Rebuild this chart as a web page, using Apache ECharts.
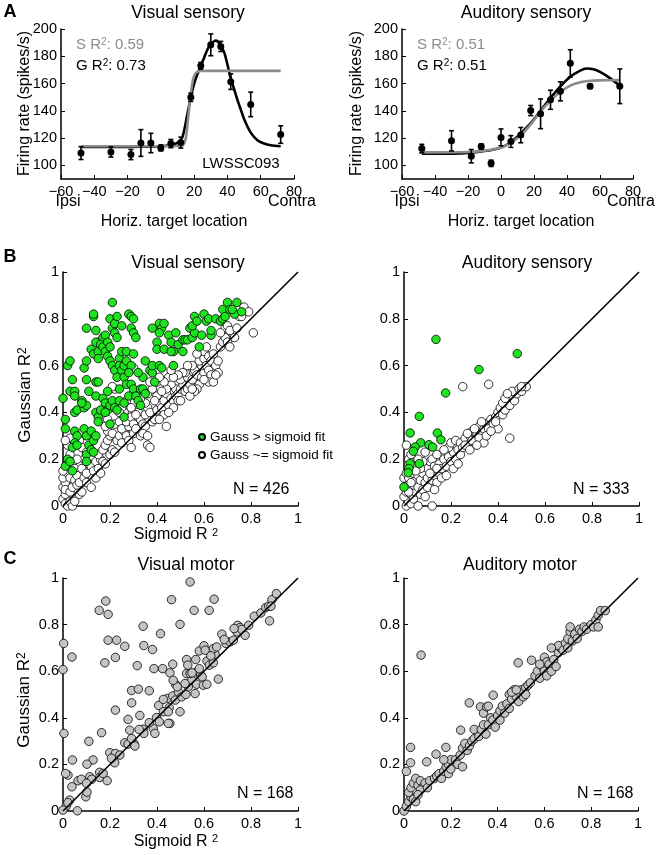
<!DOCTYPE html>
<html><head><meta charset="utf-8">
<script src="https://cdn.jsdelivr.net/npm/echarts@6/dist/echarts.min.js"></script>
<style>html,body{margin:0;padding:0;background:#fff}#c{width:659px;height:855px}</style>
</head><body><div id="c"></div><script>
// ---------- Panel A data ----------
const aYTicks = [100,120,140,160,180,200];
const visLoc  = [-48,-30,-18,-12,-6,0,6,12,18,24,30,36,42,54,72];
const visRate = [109,109.8,107.9,116.4,116.4,112.8,116,116.7,149.9,173,188.4,187.2,161.4,144.7,122.6];
const visErr  = [4.7,3.7,3.7,9.8,7.1,2.2,3,4,3,2.5,8,3.7,5.7,9,6.4];
const visGaussX = [-48,-30,-10,0,6,10,13,16,18,20,22,24,26,28,30,32,33,34,36,38,40,42,44,46,48,50,54,58,62,66,72];
const visGaussY = [113.5,113.5,113.6,114,115,116.5,121,138,150,160,167,173,179,185,189,191,191.5,191,188,183,174,164,156,148,141,134,124,118.5,116,114.7,114];
const visSigX = [-48,0,10,13,14,15,16,17,18,19,20,21,22,24,30,72];
const visSigY = [114,114,114.2,114.5,116,120,130,142,153,161,165.5,167.7,168.7,169.2,169.3,169.3];

const audLoc  = [-48,-30,-18,-12,-6,0,6,12,18,24,30,36,42,54,72];
const audRate = [112.3,118,106.7,113.8,101.5,120.5,117.5,122.2,140.2,137.8,148.1,154.3,174.8,158,158];
const audErr  = [3.1,7.4,4.9,1.9,2.3,6.2,4.3,5.6,3.7,10.9,7,7,10,1.6,12.7];
const audGaussX = [-48,-30,-18,-10,-5,0,6,12,18,24,30,36,42,48,52,56,60,66,72];
const audGaussY = [108.5,108.6,109.3,110.5,111.5,113,117,123.5,131,140,149.5,158,165,169.5,171,170.5,168.5,164,158.5];
const audSigX = [-48,-20,-10,0,6,12,18,24,30,36,42,48,54,60,72];
const audSigY = [109.5,109.8,110.8,113,116.5,122,130,139.5,147.5,154,158.5,161,162,162.3,162.5];

// ---------- Panel B data : [sigmoid R2, gaussian R2] ----------
const visSensGauss = [[0.0,0.46],[0.01,0.37],[0.01,0.33],[0.02,0.6],[0.03,0.62],[0.04,0.54],[0.03,0.49],[0.05,0.49],[0.05,0.47],[0.05,0.40],[0.06,0.41],[0.05,0.32],[0.06,0.30],[0.05,0.27],[0.04,0.25],[0.02,0.20],[0.01,0.17],[0.04,0.15],[0.03,0.19],[0.06,0.26],
[0.09,0.59],[0.10,0.62],[0.10,0.54],[0.08,0.45],[0.09,0.42],[0.10,0.43],[0.11,0.49],[0.08,0.44],[0.09,0.33],[0.10,0.30],[0.11,0.26],[0.10,0.22],[0.10,0.19],[0.12,0.24],[0.13,0.23],[0.12,0.32],[0.13,0.28],[0.14,0.30],[0.10,0.76],[0.12,0.67],[0.13,0.65],[0.13,0.81],[0.13,0.82],[0.14,0.75],[0.15,0.70],[0.14,0.70],[0.15,0.66],[0.15,0.63],[0.14,0.53],[0.15,0.53],[0.14,0.47],[0.14,0.40],[0.15,0.38],[0.15,0.36],[0.16,0.41],
[0.17,0.72],[0.16,0.69],[0.18,0.73],[0.17,0.68],[0.18,0.66],[0.19,0.70],[0.20,0.68],[0.21,0.87],[0.20,0.80],[0.21,0.76],[0.22,0.78],[0.23,0.81],[0.22,0.74],[0.19,0.64],[0.20,0.62],[0.21,0.60],[0.22,0.58],[0.23,0.55],[0.17,0.46],[0.18,0.44],[0.19,0.41],[0.18,0.40],[0.20,0.43],[0.19,0.49],[0.21,0.45],[0.20,0.35],[0.22,0.42],[0.23,0.41],[0.24,0.63],[0.24,0.60],[0.25,0.58],[0.25,0.66],[0.23,0.72],[0.25,0.77],[0.24,0.50],[0.24,0.45],
[0.26,0.60],[0.26,0.55],[0.27,0.62],[0.27,0.66],[0.28,0.82],[0.29,0.81],[0.30,0.80],[0.29,0.76],[0.30,0.74],[0.31,0.72],[0.30,0.65],[0.29,0.60],[0.28,0.57],[0.27,0.52],[0.29,0.52],[0.30,0.50],[0.28,0.47],[0.31,0.47],[0.32,0.45],[0.26,0.44],[0.26,0.38],[0.33,0.50],[0.34,0.50],[0.35,0.48],[0.33,0.43],[0.34,0.55],[0.32,0.57],
[0.35,0.62],[0.37,0.58],[0.38,0.57],[0.38,0.60],[0.39,0.53],[0.38,0.76],[0.40,0.70],[0.41,0.78],[0.42,0.76],[0.41,0.74],[0.43,0.78],[0.40,0.67],[0.41,0.60],[0.42,0.59],[0.43,0.67],
[0.45,0.73],[0.46,0.70],[0.47,0.66],[0.46,0.66],[0.47,0.60],[0.48,0.74],[0.49,0.69],[0.51,0.71],[0.51,0.66],[0.52,0.71],[0.54,0.76],[0.53,0.71],[0.55,0.72],[0.56,0.74],[0.55,0.77],
[0.56,0.81],[0.57,0.79],[0.59,0.73],[0.58,0.68],[0.60,0.82],[0.61,0.79],[0.62,0.80],[0.63,0.73],[0.63,0.75],[0.65,0.80],[0.67,0.79],[0.68,0.80],[0.68,0.84],[0.69,0.81],[0.70,0.87],[0.71,0.84],[0.74,0.87],[0.73,0.82],[0.72,0.84],[0.76,0.83]];
const visSensEqual = [[0.00,0.03],[0.01,0.01],[0.02,0.0],[0.03,0.02],[0.04,0.0],[0.05,0.02],[0.01,0.05],[0.0,0.08],[0.01,0.1],[0.0,0.12],[0.02,0.14],[0.0,0.15],[0.01,0.07],[0.03,0.06],[0.04,0.08],[0.03,0.12],[0.05,0.11],[0.06,0.09],[0.07,0.05],[0.08,0.06],[0.02,0.18],[0.04,0.18],[0.05,0.16],[0.03,0.22],[0.02,0.26],[0.03,0.29],[0.01,0.28],[0.06,0.13],[0.07,0.1],[0.09,0.12],[0.08,0.16],[0.10,0.14],[0.11,0.18],[0.12,0.17],[0.13,0.15],[0.14,0.19],[0.09,0.2],[0.1,0.1],[0.12,0.08],[0.14,0.12],[0.15,0.16],[0.16,0.2],[0.15,0.22],[0.17,0.19],[0.18,0.18],[0.16,0.14],[0.17,0.24],[0.18,0.26],[0.19,0.28],[0.2,0.22],[0.21,0.24],[0.22,0.23],[0.2,0.3],[0.19,0.32],[0.21,0.31],[0.23,0.28],[0.24,0.3],[0.25,0.27],[0.26,0.32],[0.22,0.35],[0.24,0.36],[0.25,0.33],[0.27,0.3],[0.28,0.28],[0.29,0.25],[0.3,0.31],[0.28,0.34],[0.27,0.36],[0.29,0.38],[0.3,0.35],[0.31,0.33],[0.32,0.4],[0.33,0.37],[0.34,0.35],[0.35,0.34],[0.33,0.3],[0.36,0.26],[0.37,0.25],[0.35,0.39],[0.36,0.42],[0.37,0.4],[0.38,0.36],[0.39,0.37],[0.4,0.41],[0.41,0.44],[0.4,0.47],[0.42,0.42],[0.43,0.39],[0.44,0.34],[0.43,0.45],[0.44,0.48],[0.45,0.43],[0.46,0.46],[0.47,0.45],[0.48,0.5],[0.46,0.52],[0.45,0.55],[0.47,0.42],[0.48,0.47],[0.49,0.48],[0.5,0.5],[0.51,0.52],[0.5,0.54],[0.49,0.45],[0.52,0.49],[0.53,0.5],[0.54,0.52],[0.53,0.55],[0.52,0.57],[0.55,0.54],[0.56,0.58],[0.55,0.6],[0.57,0.56],[0.58,0.52],[0.57,0.5],[0.56,0.49],[0.59,0.55],[0.6,0.57],[0.59,0.6],[0.58,0.62],[0.6,0.63],[0.61,0.6],[0.62,0.58],[0.63,0.56],[0.62,0.53],[0.64,0.53],[0.6,0.66],[0.61,0.68],[0.62,0.64],[0.63,0.62],[0.64,0.65],[0.65,0.6],[0.66,0.62],[0.66,0.57],[0.67,0.68],[0.68,0.7],[0.69,0.72],[0.7,0.7],[0.71,0.68],[0.69,0.76],[0.7,0.77],[0.72,0.74],[0.73,0.72],[0.71,0.75],[0.74,0.76],[0.75,0.81],[0.76,0.81],[0.77,0.85],[0.79,0.83],[0.81,0.74],[0.67,0.74],[0.57,0.65],[0.53,0.6],[0.51,0.57],[0.49,0.56],[0.47,0.55],[0.44,0.5],[0.42,0.49],[0.39,0.45],[0.36,0.48],[0.38,0.5],[0.4,0.53],[0.43,0.53],[0.35,0.44],[0.33,0.46],[0.3,0.44],[0.29,0.42],[0.26,0.4],[0.25,0.42],[0.22,0.5],[0.21,0.51],[0.3,0.59],[0.19,0.37],[0.18,0.34],[0.24,0.4],[0.13,0.3],[0.07,0.28],[0.06,0.2],[0.08,0.25],[0.1,0.23],[0.27,0.45],[0.31,0.39],[0.34,0.31],[0.36,0.3],[0.41,0.37],[0.45,0.4],[0.5,0.45],[0.54,0.47],[0.6,0.54],[0.65,0.56],[0.55,0.5],[0.41,0.55],[0.37,0.53],[0.46,0.58]];
const audSensGauss = [[0.136,0.712],[0.482,0.651],[0.319,0.583],[0.177,0.483],[0.065,0.383],[0.026,0.312],[0.142,0.312],[0.157,0.283],[0.071,0.27],[0.106,0.262],[0.047,0.252],[0.122,0.252],[0.04,0.234],[0.026,0.181],[0.065,0.181],[0.021,0.16],[0.018,0.142],[0.0,0.081]];
const audSensEqual = [[0.01,0.0],[0.02,0.02],[0.03,0.01],[0.0,0.04],[0.01,0.06],[0.02,0.09],[0.0,0.12],[0.01,0.14],[0.02,0.12],[0.03,0.05],[0.04,0.03],[0.05,0.06],[0.04,0.09],[0.05,0.11],[0.06,0.08],[0.07,0.05],[0.08,0.07],[0.09,0.04],[0.06,0.0],[0.12,0.0],[0.03,0.1],[0.04,0.14],[0.06,0.13],[0.07,0.11],[0.08,0.14],[0.09,0.1],[0.1,0.12],[0.11,0.09],[0.12,0.11],[0.13,0.13],[0.14,0.1],[0.15,0.14],[0.1,0.16],[0.11,0.19],[0.12,0.2],[0.13,0.17],[0.14,0.22],[0.15,0.18],[0.16,0.16],[0.17,0.2],[0.18,0.17],[0.19,0.21],[0.2,0.19],[0.21,0.23],[0.22,0.2],[0.23,0.24],[0.24,0.22],[0.19,0.25],[0.17,0.24],[0.2,0.27],[0.22,0.28],[0.24,0.27],[0.25,0.25],[0.26,0.29],[0.27,0.26],[0.28,0.3],[0.29,0.32],[0.3,0.27],[0.31,0.31],[0.32,0.34],[0.33,0.3],[0.34,0.33],[0.35,0.35],[0.36,0.33],[0.37,0.37],[0.38,0.35],[0.39,0.38],[0.4,0.4],[0.41,0.42],[0.42,0.39],[0.43,0.41],[0.44,0.44],[0.45,0.43],[0.46,0.47],[0.47,0.45],[0.48,0.48],[0.46,0.49],[0.49,0.5],[0.5,0.49],[0.52,0.51],[0.45,0.29],[0.4,0.33],[0.25,0.51],[0.36,0.52],[0.27,0.31],[0.29,0.28],[0.32,0.29],[0.34,0.27],[0.26,0.26],[0.35,0.3],[0.08,0.19],[0.09,0.23],[0.06,0.2],[0.04,0.17],[0.02,0.2],[0.01,0.26],[0.03,0.22],[0.1,0.08],[0.13,0.07],[0.16,0.12],[0.18,0.13],[0.21,0.16],[0.23,0.18],[0.14,0.16],[0.11,0.14],[0.07,0.16],[0.05,0.15],[0.02,0.06],[0.28,0.24],[0.31,0.26],[0.3,0.33],[0.33,0.36],[0.37,0.32],[0.39,0.36],[0.42,0.44],[0.43,0.46],[0.44,0.48],[0.5,0.51]];

// ---------- Panel C data ----------
const visMotor = [[0.541,0.983],[0.182,0.901],[0.462,0.907],[0.643,0.909],[0.154,0.861],[0.558,0.861],[0.622,0.861],[0.192,0.844],[0.341,0.793],[0.498,0.801],[0.003,0.719],[0.192,0.733],[0.228,0.733],[0.263,0.707],[0.344,0.71],[0.381,0.693],[0.415,0.761],[0.038,0.661],[0.223,0.659],[0.178,0.636],[0.316,0.624],[0.0,0.607],[0.424,0.611],[0.387,0.611],[0.467,0.63],[0.455,0.593],[0.292,0.517],[0.321,0.523],[0.367,0.516],[0.479,0.544],[0.292,0.464],[0.223,0.433],[0.327,0.41],[0.277,0.393],[0.407,0.453],[0.452,0.443],[0.427,0.426],[0.498,0.426],[0.455,0.376],[0.384,0.354],[0.341,0.351],[0.284,0.347],[0.391,0.333],[0.164,0.336],[0.004,0.333],[0.11,0.299],[0.199,0.25],[0.223,0.247],[0.242,0.24],[0.22,0.207],[0.206,0.226],[0.04,0.219],[0.128,0.219],[0.102,0.201],[0.021,0.154],[0.011,0.161],[0.114,0.147],[0.122,0.136],[0.156,0.166],[0.156,0.144],[0.188,0.13],[0.171,0.161],[0.038,0.104],[0.064,0.13],[0.078,0.136],[0.1,0.119],[0.097,0.061],[0.102,0.081],[0.028,0.047],[0.014,0.021],[0.0,0.004],[0.061,0.001],[0.021,0.036],
[0.263,0.293],[0.277,0.287],[0.302,0.29],[0.306,0.279],[0.292,0.311],[0.344,0.333],[0.324,0.35],[0.367,0.379],[0.398,0.401],[0.41,0.383],[0.445,0.483],[0.467,0.494],[0.478,0.476],[0.491,0.511],[0.505,0.49],[0.523,0.5],[0.533,0.533],[0.548,0.561],[0.526,0.59],[0.541,0.59],[0.569,0.597],[0.586,0.583],[0.562,0.504],[0.569,0.544],[0.597,0.54],[0.612,0.544],[0.592,0.576],[0.58,0.611],[0.58,0.687],[0.6,0.709],[0.605,0.69],[0.613,0.644],[0.623,0.626],[0.64,0.636],[0.647,0.673],[0.64,0.697],[0.654,0.704],[0.661,0.566],[0.629,0.666],[0.676,0.759],[0.694,0.719],[0.711,0.726],[0.725,0.733],[0.74,0.769],[0.743,0.797],[0.754,0.787],[0.761,0.779],[0.775,0.754],[0.79,0.797],[0.814,0.836],[0.842,0.85],[0.863,0.873],[0.875,0.879],[0.879,0.816],[0.889,0.907],[0.908,0.933],[0.885,0.879],[0.728,0.783],[0.686,0.736],[0.565,0.65],[0.526,0.65],[0.531,0.626],[0.549,0.593],[0.519,0.547],[0.486,0.533],[0.469,0.561],[0.448,0.376],[0.427,0.479],[0.448,0.426]];
const audMotor = [[0.0,0.0],[0.01,0.02],[0.02,0.04],[0.03,0.06],[0.04,0.05],[0.05,0.04],[0.02,0.08],[0.03,0.1],[0.04,0.12],[0.05,0.14],[0.06,0.11],[0.07,0.13],[0.08,0.1],[0.09,0.12],[0.07,0.09],[0.1,0.1],[0.11,0.13],[0.06,0.07],[0.01,0.17],[0.028,0.207],[0.028,0.273],[0.097,0.211],[0.073,0.669],
[0.13,0.14],[0.14,0.15],[0.15,0.16],[0.16,0.14],[0.17,0.17],[0.18,0.19],[0.19,0.2],[0.2,0.22],[0.19,0.16],[0.2,0.18],[0.179,0.273],[0.137,0.244],[0.17,0.22],[0.22,0.22],[0.23,0.2],[0.25,0.19],[0.24,0.24],[0.25,0.27],[0.26,0.29],[0.27,0.26],[0.28,0.28],[0.29,0.3],[0.3,0.31],[0.3,0.35],[0.242,0.347],[0.279,0.464],[0.32,0.32],[0.33,0.35],[0.34,0.37],[0.327,0.447],[0.34,0.42],[0.353,0.447],[0.36,0.45],[0.35,0.33],[0.36,0.37],[0.37,0.4],[0.381,0.497],[0.38,0.39],[0.39,0.36],[0.4,0.41],[0.41,0.43],[0.42,0.45],[0.41,0.39],[0.43,0.42],[0.44,0.46],[0.45,0.44],[0.45,0.5],[0.46,0.48],[0.47,0.51],[0.48,0.49],[0.47,0.52],[0.49,0.47],[0.5,0.5],[0.5,0.52],[0.51,0.49],[0.52,0.53],[0.53,0.54],[0.54,0.55],[0.488,0.636],[0.545,0.647],[0.56,0.58],[0.57,0.6],[0.58,0.57],[0.59,0.62],[0.6,0.6],[0.6,0.66],[0.61,0.64],[0.62,0.63],[0.61,0.58],[0.63,0.6],[0.64,0.65],[0.65,0.62],[0.66,0.68],[0.67,0.7],[0.66,0.71],[0.68,0.69],[0.69,0.72],[0.7,0.7],[0.7,0.74],[0.71,0.77],[0.71,0.79],[0.72,0.73],[0.73,0.76],[0.74,0.74],[0.75,0.78],[0.76,0.77],[0.77,0.79],[0.78,0.78],[0.8,0.8],[0.81,0.79],[0.82,0.82],[0.83,0.84],[0.84,0.86],[0.86,0.86],[0.83,0.79],[0.63,0.7],[0.58,0.63],[0.52,0.5],[0.46,0.51],[0.48,0.52]];
const identity = [[0,0],[1,1]];

// ---------- chart ----------
const FF = '"Liberation Sans", Arial, sans-serif';
const chart = echarts.init(document.getElementById('c'), null, {renderer:'canvas'});
const GREEN = '#1ee31e', GRAYFILL = '#c4c4c4', GRAYLINE = '#8c8c8c';

const grids = [
  {left:61, top:29, width:233, height:150},
  {left:402, top:29, width:231, height:150},
  {left:63, top:272, width:235, height:234},
  {left:404, top:272, width:235, height:234},
  {left:63, top:578, width:235, height:233},
  {left:404, top:578, width:234, height:233}
];
function baseAxis(extra) {
  return Object.assign({
    type:'value', splitLine:{show:false},
    axisLine:{show:true, onZero:false, lineStyle:{color:'#000', width:1.5}},
    axisTick:{show:true, inside:true, length:4, lineStyle:{color:'#000', width:1}},
    axisLabel:{color:'#000', fontFamily:FF, fontSize:14.5, margin:5}
  }, extra);
}
const xAxes = [], yAxes = [];
for (let i = 0; i < 2; i++) {
  xAxes.push(baseAxis({gridIndex:i, min:-60, max:80, interval:20,
    axisLabel:{color:'#000', fontFamily:FF, fontSize:14.5, margin:5, formatter:v => String(v).replace('-', '\u2212')}}));
  yAxes.push(baseAxis({gridIndex:i, min:90, max:200, interval:10,
    axisTick:{show:true, inside:true, length:4, lineStyle:{color:'#000', width:1}, customValues:aYTicks},
    axisLabel:{color:'#000', fontFamily:FF, fontSize:14.5, margin:4, customValues:aYTicks}}));
}
for (let i = 2; i < 6; i++) {
  xAxes.push(baseAxis({gridIndex:i, min:0, max:1, interval:0.2,
    axisLabel:{color:'#000', fontFamily:FF, fontSize:14.5, margin:5}}));
  yAxes.push(baseAxis({gridIndex:i, min:0, max:1, interval:0.2,
    axisLabel:{color:'#000', fontFamily:FF, fontSize:14.5, margin:4}}));
}

function curve(idx, xs, ys, color) {
  return {type:'line', xAxisIndex:idx, yAxisIndex:idx, data: xs.map((x,i)=>[x, ys[i]]),
    smooth:0.3, symbol:'none', lineStyle:{color, width:2.6}, z:2, silent:true};
}
function errBars(idx, xs, ys, es) {
  return {type:'custom', xAxisIndex:idx, yAxisIndex:idx, z:4, silent:true,
    data: xs.map((x,i)=>[x, ys[i]-es[i], ys[i]+es[i]]),
    encode:{x:0, y:[1,2]},
    renderItem(params, api) {
      const x = api.value(0);
      const lo = api.coord([x, api.value(1)]), hi = api.coord([x, api.value(2)]);
      const w = 2.5, st = {stroke:'#000', lineWidth:1.6};
      return {type:'group', children:[
        {type:'line', shape:{x1:lo[0], y1:lo[1], x2:hi[0], y2:hi[1]}, style:st},
        {type:'line', shape:{x1:lo[0]-w, y1:lo[1], x2:lo[0]+w, y2:lo[1]}, style:st},
        {type:'line', shape:{x1:hi[0]-w, y1:hi[1], x2:hi[0]+w, y2:hi[1]}, style:st}
      ]};
    }};
}
function pts(idx, xs, ys) {
  return {type:'scatter', xAxisIndex:idx, yAxisIndex:idx, data: xs.map((x,i)=>[x, ys[i]]),
    symbolSize:7, itemStyle:{color:'#000', opacity:1}, z:5, silent:true};
}
function scat(idx, name, data, fill) {
  return {type:'scatter', name, xAxisIndex:idx, yAxisIndex:idx, data, symbolSize:8.5,
    itemStyle:{color:fill, borderColor:'#000', borderWidth:0.8, opacity:1}, z:3, silent:true};
}
function diag(idx) {
  return {type:'line', xAxisIndex:idx, yAxisIndex:idx, data:identity, symbol:'none',
    lineStyle:{color:'#000', width:1.6}, z:6, silent:true};
}

const series = [
  curve(0, visGaussX, visGaussY, '#000'), curve(0, visSigX, visSigY, GRAYLINE),
  errBars(0, visLoc, visRate, visErr), pts(0, visLoc, visRate),
  curve(1, audGaussX, audGaussY, '#000'), curve(1, audSigX, audSigY, GRAYLINE),
  errBars(1, audLoc, audRate, audErr), pts(1, audLoc, audRate),
  scat(2, 'Gauss ~= sigmoid fit', visSensEqual, '#fff'), scat(2, 'Gauss > sigmoid fit', visSensGauss, GREEN), diag(2),
  scat(3, 'Gauss ~= sigmoid fit', audSensEqual, '#fff'), scat(3, 'Gauss > sigmoid fit', audSensGauss, GREEN), diag(3),
  scat(4, 'Visual motor', visMotor, GRAYFILL), diag(4),
  scat(5, 'Auditory motor', audMotor, GRAYFILL), diag(5)
];

function txt(x, y, text, o) {
  o = o || {};
  const align = o.align || 'center';
  const style = {text, fill:o.color || '#000', fontSize:o.size || 16, fontFamily:FF,
    fontWeight:o.bold ? 'bold' : 'normal', align, verticalAlign:'middle',
    textAlign:align, textVerticalAlign:'middle'};
  if (o.rich) style.rich = o.rich;
  return {type:'text', x, y, rotation:o.rot || 0, z:100, silent:true, style};
}
function supRich(size, color) {
  return {b:{fontSize:size, fontFamily:FF, fill:color, color:color},
          s:{fontSize:Math.round(size*0.68), fontFamily:FF, fill:color, color:color, verticalAlign:'top'}};
}
const ROT = Math.PI / 2;
const graphics = [
  txt(10, 12, 'A', {bold:true, size:18}), txt(10, 257.5, 'B', {bold:true, size:18}), txt(10, 559, 'C', {bold:true, size:18}),
  txt(188, 13.5, 'Visual sensory', {size:17.5}), txt(526, 13.5, 'Auditory sensory', {size:17.5}),
  txt(188, 263.5, 'Visual sensory', {size:17.5}), txt(527, 263.5, 'Auditory sensory', {size:17.5}),
  txt(186, 565, 'Visual motor', {size:17.5}), txt(520, 565, 'Auditory motor', {size:17.5}),
  txt(25, 103.5, 'Firing rate (spikes/s)', {rot:ROT}), txt(356.5, 103.5, 'Firing rate (spikes/s)', {rot:ROT}),
  txt(174, 221.5, 'Horiz. target location'), txt(521, 221.5, 'Horiz. target location'),
  txt(68, 202, 'Ipsi'), txt(292, 202, 'Contra'), txt(407, 202, 'Ipsi'), txt(631, 202, 'Contra'),
  txt(76, 45, '{b|S R}{s|2}{b|: 0.59}', {align:'left', color:GRAYLINE, rich:supRich(15, GRAYLINE)}),
  txt(76, 65.5, '{b|G R}{s|2}{b|: 0.73}', {align:'left', rich:supRich(15, '#000')}),
  txt(417, 45, '{b|S R}{s|2}{b|: 0.51}', {align:'left', color:GRAYLINE, rich:supRich(15, GRAYLINE)}),
  txt(417, 65.5, '{b|G R}{s|2}{b|: 0.51}', {align:'left', rich:supRich(15, '#000')}),
  txt(241, 164, 'LWSSC093', {size:15}),
  txt(25, 395, '{b|Gaussian R}{s|2}', {rot:ROT, rich:supRich(17, '#000')}),
  txt(24, 700, '{b|Gaussian R}{s|2}', {rot:ROT, rich:supRich(17, '#000')}),
  txt(176, 535, '{b|Sigmoid R }{s|2}', {rich:supRich(16, '#000')}),
  txt(176, 841.5, '{b|Sigmoid R }{s|2}', {rich:supRich(16, '#000')}),
  txt(289.5, 489.5, 'N = 426', {align:'right'}), txt(629.5, 489.5, 'N = 333', {align:'right'}),
  txt(293.5, 793.5, 'N = 168', {align:'right'}), txt(633.5, 794, 'N = 168', {align:'right'})
];

chart.setOption({
  animation:false, backgroundColor:'#fff',
  grid:grids, xAxis:xAxes, yAxis:yAxes, series,
  legend:{data:['Gauss > sigmoid fit', 'Gauss ~= sigmoid fit'], orient:'vertical', left:193, top:425,
    itemWidth:6, itemHeight:6, itemGap:4, icon:'circle', selectedMode:false,
    textStyle:{fontSize:13.5, fontFamily:FF, color:'#000'}},
  graphic:graphics
});
</script></body></html>
